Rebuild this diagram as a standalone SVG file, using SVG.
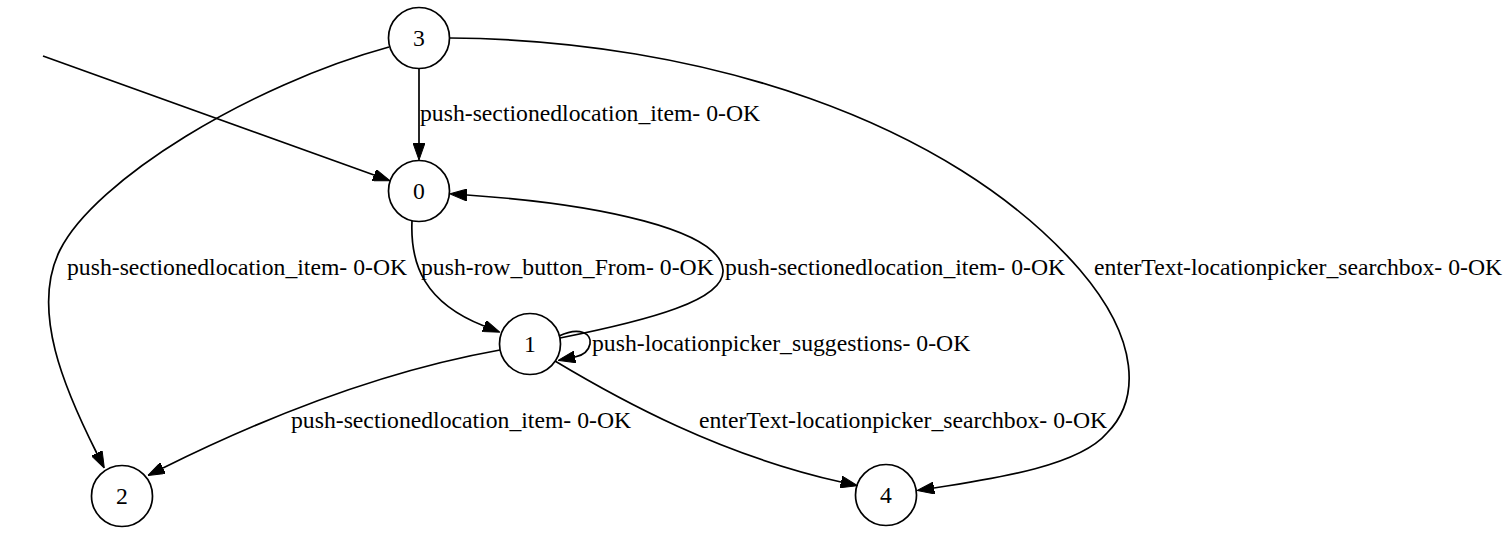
<svg xmlns="http://www.w3.org/2000/svg" width="1511" height="540" viewBox="0 0 1511 540">
<style>
  .node circle { fill: none; stroke: #000; stroke-width: 1.7; }
  .node text, .lbl { font-family: "Liberation Serif", "Times New Roman", serif; font-size: 23.7px; fill: #000; }
  .node text { text-anchor: middle; }
  .edge { fill: none; stroke: #000; stroke-width: 1.7; marker-end: url(#arr); }
</style>
<defs>
  <marker id="arr" viewBox="0 0 17 12" markerWidth="17" markerHeight="12" markerUnits="userSpaceOnUse" refX="0" refY="6" orient="auto">
    <path d="M0,0 L17,6 L0,12 z" fill="#000" stroke="#000" stroke-width="1"/>
  </marker>
</defs>
<rect width="1511" height="540" fill="#fff"/>
<g id="connectors">
  <path class="edge" d="M43,56 L374,175"/>
  <path class="edge" d="M419,69 L419,143"/>
  <path class="edge" d="M389,47 C250,85 95,180 60,250 C30,310 65,390 96.7,453"/>
  <path class="edge" d="M450,38 C700,40 950,120 1080,270 C1140,340 1140,400 1107,433 C1080,465 1000,478 934,488"/>
  <path class="edge" d="M412,221 C410,265 425,303 484,326"/>
  <path class="edge" d="M560,338 C650,320 725,300 723,270 C720,230 600,204 467,195"/>
  <path class="edge" d="M559,336 C580,326 592,334 590,344 C588,354 580,356 575,357"/>
  <path class="edge" d="M500,350 C410,366 300,400 163,468"/>
  <path class="edge" d="M555,361 C620,400 720,455 841,482"/>
  <text class="lbl" x="420" y="121">push-sectionedlocation_item- 0-OK</text>
  <text class="lbl" x="67" y="275">push-sectionedlocation_item- 0-OK</text>
  <text class="lbl" x="421" y="275">push-row_button_From- 0-OK</text>
  <text class="lbl" x="725" y="275">push-sectionedlocation_item- 0-OK</text>
  <text class="lbl" x="1094" y="275">enterText-locationpicker_searchbox- 0-OK</text>
  <text class="lbl" x="592" y="351">push-locationpicker_suggestions- 0-OK</text>
  <text class="lbl" x="291" y="428">push-sectionedlocation_item- 0-OK</text>
  <text class="lbl" x="699" y="428">enterText-locationpicker_searchbox- 0-OK</text>
</g>
<g id="node3" class="node"><circle cx="419" cy="38" r="30.5"/><text x="419" y="46">3</text></g>
<g id="node0" class="node"><circle cx="419" cy="191" r="30.5"/><text x="419" y="199">0</text></g>
<g id="node1" class="node"><circle cx="530" cy="344" r="30.5"/><text x="530" y="352">1</text></g>
<g id="node2" class="node"><circle cx="122" cy="496" r="30.5"/><text x="122" y="504">2</text></g>
<g id="node4" class="node"><circle cx="886" cy="495" r="30.5"/><text x="886" y="503">4</text></g>
</svg>
